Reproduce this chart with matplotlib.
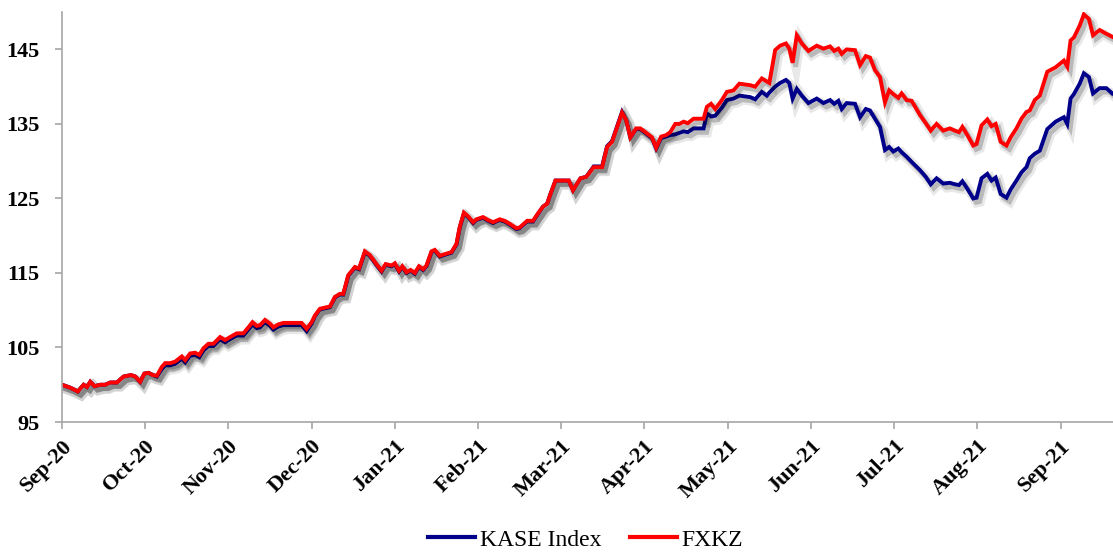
import numpy as np
import matplotlib
matplotlib.use("Agg")
import matplotlib.pyplot as plt
import matplotlib.patheffects as pe

# x position in months from Sep-20 (tick labels sit on whole months)
t = [0.00, 0.10, 0.19, 0.26, 0.30, 0.34, 0.39, 0.46, 0.52, 0.58, 0.66, 0.74, 0.83, 0.88, 0.94, 0.99,
     1.04, 1.09, 1.14, 1.20, 1.24, 1.30, 1.36, 1.44, 1.48, 1.54, 1.60, 1.65, 1.70, 1.76, 1.82, 1.90,
     1.96, 2.02, 2.10, 2.18, 2.24, 2.29, 2.34, 2.38, 2.44, 2.50, 2.54, 2.60, 2.66, 2.74, 2.80, 2.88,
     2.94, 3.00, 3.04, 3.10, 3.22, 3.28, 3.34, 3.38, 3.44, 3.52, 3.57, 3.64, 3.70, 3.77, 3.84, 3.89,
     3.96, 4.00, 4.05, 4.09, 4.14, 4.19, 4.24, 4.29, 4.34, 4.38, 4.44, 4.48, 4.54, 4.62, 4.68, 4.74,
     4.78, 4.83, 4.88, 4.94, 4.98, 5.06, 5.12, 5.18, 5.26, 5.32, 5.38, 5.46, 5.50, 5.59, 5.66, 5.72,
     5.78, 5.83, 5.87, 5.93, 5.99, 6.09, 6.14, 6.23, 6.30, 6.39, 6.49, 6.55, 6.61, 6.73, 6.78, 6.83,
     6.90, 6.95, 7.01, 7.09, 7.14, 7.20, 7.26, 7.31, 7.37, 7.42, 7.47, 7.52, 7.59, 7.71, 7.75, 7.80,
     7.85, 7.93, 7.99, 8.07, 8.14, 8.27, 8.33, 8.41, 8.47, 8.50, 8.57, 8.63, 8.70, 8.74, 8.78, 8.83,
     8.89, 8.97, 9.07, 9.15, 9.23, 9.28, 9.33, 9.37, 9.43, 9.53, 9.59, 9.66, 9.71, 9.77, 9.83, 9.89,
     9.94, 9.99, 10.05, 10.09, 10.15, 10.21, 10.31, 10.38, 10.44, 10.51, 10.59, 10.67, 10.73, 10.78,
     10.82, 10.88, 10.95, 10.99, 11.05, 11.12, 11.17, 11.22, 11.28, 11.35, 11.40, 11.47, 11.53, 11.59,
     11.63, 11.69, 11.75, 11.84, 11.94, 12.04, 12.08, 12.12, 12.16, 12.23, 12.28, 12.34, 12.39, 12.47,
     12.55, 12.62]

fxkz = [100.0, 99.6, 99.1, 100.0, 99.7, 100.4, 99.8, 100.0, 100.0, 100.3, 100.3, 101.1, 101.3, 101.1, 100.4, 101.5,
        101.6, 101.3, 101.2, 102.4, 102.9, 102.9, 103.1, 103.8, 103.3, 104.2, 104.3, 104.0, 104.9, 105.5, 105.5, 106.4,
        106.0, 106.4, 106.9, 106.9, 107.7, 108.4, 107.9, 108.0, 108.7, 108.2, 107.7, 108.1, 108.3, 108.3, 108.3, 108.3,
        107.5, 108.4, 109.3, 110.2, 110.5, 111.8, 112.2, 112.2, 114.7, 115.8, 115.6, 117.9, 117.4, 116.3, 115.3, 116.2,
        116.0, 116.3, 115.3, 115.9, 115.1, 115.4, 115.0, 115.9, 115.5, 116.0, 117.9, 118.1, 117.3, 117.6, 117.8, 118.9,
        121.2, 123.1, 122.6, 121.8, 122.2, 122.5, 122.1, 121.8, 122.2, 122.0, 121.6, 121.0, 121.1, 122.0, 122.0, 123.0,
        123.9, 124.3, 125.6, 127.4, 127.4, 127.4, 126.1, 127.7, 127.9, 129.2, 129.2, 131.9, 132.6, 136.5, 135.5, 133.2,
        134.4, 134.4, 133.9, 133.2, 131.8, 133.3, 133.5, 133.9, 135.0, 135.0, 135.3, 135.1, 135.7, 135.7, 137.3, 137.7,
        137.0, 138.2, 139.3, 139.5, 140.4, 140.2, 140.0, 141.1, 140.7, 140.5, 144.9, 145.5, 145.8, 145.1, 143.2, 146.9,
        145.8, 144.8, 145.5, 145.1, 145.4, 144.8, 145.1, 144.4, 145.0, 144.9, 142.9, 144.1, 143.9, 142.2, 141.3, 137.9,
        139.5, 139.0, 138.5, 139.1, 138.2, 138.1, 136.2, 135.1, 134.1, 135.0, 134.1, 134.4, 134.1, 133.9,
        134.6, 133.5, 132.1, 132.3, 134.8, 135.6, 134.7, 135.0, 132.6, 132.1, 133.2, 134.4, 135.7, 136.6,
        136.8, 138.2, 138.8, 142.0, 142.6, 143.5, 142.7, 146.2, 146.6, 148.2, 149.7, 149.1, 146.9, 147.6,
        147.1, 146.7]

kase = [100.0, 99.6, 99.1, 100.0, 99.7, 100.4, 99.8, 100.0, 100.0, 100.3, 100.3, 101.1, 101.3, 101.1, 100.4, 101.5,
        101.6, 101.3, 101.1, 102.1, 102.6, 102.6, 102.8, 103.5, 103.0, 103.9, 104.0, 103.7, 104.6, 105.2, 105.2, 106.1,
        105.7, 106.1, 106.6, 106.6, 107.4, 108.1, 107.6, 107.7, 108.4, 107.9, 107.4, 107.8, 108.0, 108.0, 108.0, 108.0,
        107.2, 108.2, 109.2, 110.1, 110.4, 111.7, 112.1, 112.1, 114.6, 115.7, 115.5, 117.8, 117.3, 116.2, 115.2, 116.1,
        115.9, 116.2, 115.2, 115.8, 115.0, 115.3, 114.9, 115.8, 115.4, 115.9, 117.8, 118.0, 117.2, 117.5, 117.7, 118.8,
        121.1, 123.0, 122.5, 121.7, 122.1, 122.4, 122.0, 121.7, 122.1, 121.9, 121.5, 120.9, 121.0, 121.9, 121.9, 122.9,
        123.9, 124.3, 125.6, 127.4, 127.4, 127.4, 126.1, 127.7, 127.9, 129.3, 129.3, 132.0, 132.7, 136.6, 135.5, 133.2,
        134.3, 134.3, 133.8, 133.1, 131.7, 133.1, 133.3, 133.5, 133.6, 133.8, 134.0, 133.9, 134.4, 134.4, 136.4, 136.0,
        136.1, 137.2, 138.2, 138.4, 138.8, 138.6, 138.3, 139.3, 138.8, 139.2, 140.0, 140.5, 140.9, 140.5, 138.4, 139.7,
        138.8, 137.8, 138.4, 137.8, 138.2, 137.7, 138.1, 137.0, 137.8, 137.7, 135.9, 137.0, 136.8, 135.7, 134.6, 131.5,
        131.9, 131.3, 131.7, 131.2, 130.6, 129.9, 128.8, 127.9, 126.9, 127.7, 127.0, 127.1, 126.9, 126.8,
        127.3, 126.3, 125.0, 125.1, 127.7, 128.3, 127.4, 127.8, 125.6, 125.1, 126.2, 127.4, 128.5, 129.2,
        130.4, 131.0, 131.4, 134.3, 135.3, 135.9, 135.0, 138.4, 139.0, 140.4, 141.8, 141.3, 139.1, 139.8,
        139.8, 139.1]

month_labels = ['Sep-20', 'Oct-20', 'Nov-20', 'Dec-20', 'Jan-21', 'Feb-21', 'Mar-21',
                'Apr-21', 'May-21', 'Jun-21', 'Jul-21', 'Aug-21', 'Sep-21']
y_ticks = [95, 105, 115, 125, 135, 145]

plt.rcParams['font.family'] = 'Liberation Serif'

fig = plt.figure(figsize=(11.13, 5.52), dpi=100)
ax = fig.add_axes([0.0557, 0.2355, 0.9443, 0.7425])

# soft drop shadow like the Excel original
shadow = [pe.SimpleLineShadow(offset=(2.5, -3), shadow_color='k', alpha=0.09, linewidth=7),
          pe.SimpleLineShadow(offset=(2.2, -2.8), shadow_color='k', alpha=0.2, linewidth=3.5),
          pe.Normal()]

ax.plot(t, kase, color='#00008B', lw=2.8, label='KASE Index', path_effects=shadow, solid_joinstyle='miter')
ax.plot(t, fxkz, color='#FF0000', lw=2.8, label='FXKZ', path_effects=shadow, solid_joinstyle='miter')

ax.set_xlim(0, 12.63)
ax.set_ylim(95, 150)
ax.set_xticks(range(len(month_labels)))
ax.set_xticklabels(month_labels, rotation=45, ha='right', rotation_mode='anchor', fontweight='bold')
ax.set_yticks(y_ticks)
ax.set_yticklabels([str(v) for v in y_ticks], fontweight='bold')

for s in ['top', 'right']:
    ax.spines[s].set_visible(False)
for s in ['left', 'bottom']:
    ax.spines[s].set_color('#a6a6a6')
    ax.spines[s].set_linewidth(1.2)
ax.tick_params(axis='both', colors='#a6a6a6', length=5, width=1.2, labelcolor='black')
ax.tick_params(axis='x', pad=5, labelsize=16)
ax.tick_params(axis='y', pad=11, labelsize=16)

leg = fig.legend(loc='center', bbox_to_anchor=(0.526, 0.022), ncol=2, frameon=False,
                 prop={'family': 'Liberation Serif', 'size': 17}, handlelength=2.0,
                 handletextpad=0.2, columnspacing=1.2)
for h in leg.legend_handles:
    h.set_path_effects([])
    h.set_linewidth(3)

fig.savefig('out.png', dpi=100)
